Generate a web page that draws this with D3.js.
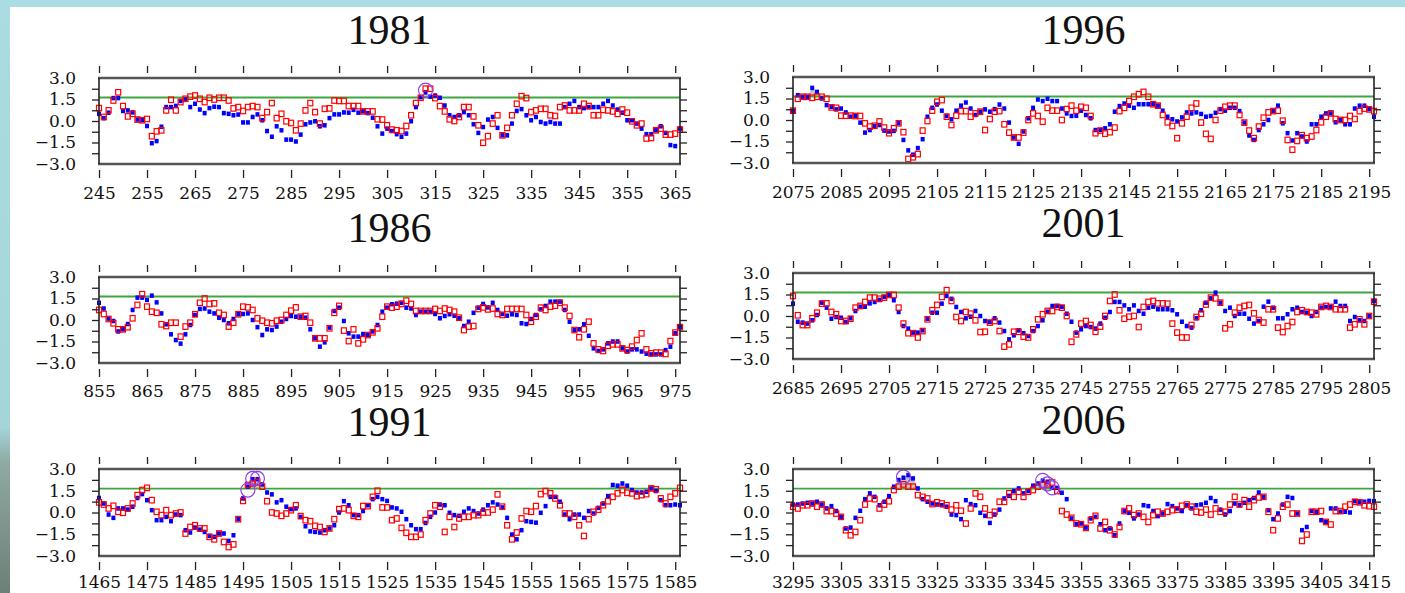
<!DOCTYPE html>
<html>
<head>
<meta charset="utf-8">
<script src="https://cdn.jsdelivr.net/npm/d3@7"></script>
<style>
  body { margin: 0; background: #fff; }
  svg { display: block; }
  .tick text { font-family: "DejaVu Serif", serif; font-size: 17px; fill: #111; }
  .title { font-family: "Liberation Serif", serif; font-size: 42px; fill: #111; }
</style>
</head>
<body>
<div id="chart"></div>
<script>
// panel titles and first day of each window (every window is 122 days)
const titles = ['1981', '1996', '1986', '2001', '1991', '2006'];
const startDays = [245, 2075, 855, 2685, 1465, 3295];
const threshold = 1.64;
const yLabelTicks = [-3, -1.5, 0, 1.5, 3];
const yMinorTicks = [-2.25, -1.5, -0.75, 0, 0.75, 1.5, 2.25];

const blue1981 = [0.5,0.2,0.58,1.6,1.6,0.7,0.74,0.6,0.1,0.05,
  -0.35,-1.55,-1.4,-0.4,0.97,0.97,1.05,1.4,1.5,0.97,
  1.2,0.8,0.55,0.9,1.0,0.97,0.55,0.5,0.4,0.45,
  -0.1,-0.1,0.28,0.46,0.05,-0.7,-1.1,-0.37,-0.65,-1.3,
  -1.3,-1.43,-0.95,-0.23,-0.1,-0.02,-0.37,-0.3,0.2,0.46,
  0.46,0.6,0.58,0.78,0.58,0.67,0.55,0.23,-0.37,-0.88,
  -0.53,-0.7,-0.92,-1.1,-0.88,-0.02,0.97,1.66,2.0,1.7,
  1.78,1.62,1.08,0.4,0.28,0.4,0.62,0.4,-0.23,-0.83,
  -0.42,0.1,0.28,-0.48,-1.0,-1.0,-0.18,0.7,0.83,0.4,
  0.05,0.28,-0.07,-0.18,-0.07,-0.18,-0.18,0.97,1.2,1.4,
  0.97,0.9,0.97,0.97,0.97,1.2,1.4,1.08,0.8,0.58,
  0.05,0.05,-0.18,-0.53,-0.92,-0.92,-0.65,-0.37,-0.83,-1.68,
  -1.75,-0.53];
const red1981 = [0.9,0.28,0.74,1.43,2.0,1.04,0.32,0.5,0.1,0.05,
  0.14,-1.06,-0.72,-0.65,0.74,1.48,0.74,1.32,1.55,1.7,
  1.78,1.55,1.32,1.62,1.5,1.62,1.62,1.43,0.88,0.97,
  0.7,0.97,1.04,0.97,0.2,0.62,1.25,0.2,0.5,-0.02,
  -0.14,-0.65,-0.18,0.74,1.25,0.62,-0.18,0.85,0.88,1.43,
  1.4,1.4,1.04,1.04,1.04,0.67,0.67,0.67,0.12,0.1,
  -0.3,-0.6,-0.65,-0.7,-0.35,0.4,1.25,1.62,2.25,2.25,
  1.6,1.04,0.67,0.12,0.0,0.28,0.97,0.97,0.32,-0.3,
  -1.52,-1.06,-0.18,0.4,-1.0,-0.48,0.4,1.2,1.73,1.6,
  0.62,0.74,0.85,0.85,0.4,0.35,0.97,1.08,0.74,0.74,
  0.74,1.2,1.04,0.4,0.4,0.78,0.74,0.67,0.5,0.8,
  0.58,-0.02,-0.3,-0.18,-1.22,-1.18,-0.65,-0.53,-0.95,-0.95,
  -0.88,-0.6];

const blue1996 = [0.65,1.73,1.62,1.62,2.24,1.96,1.5,1.04,0.92,0.74,
  0.8,0.53,0.23,0.3,-0.18,-0.88,-0.7,-0.42,-0.35,-0.74,
  -0.8,-0.76,-0.23,-1.39,-2.12,-2.42,-1.96,-1.34,0.23,0.85,
  1.08,0.65,0.28,0.05,0.65,1.0,1.22,0.8,0.35,0.58,
  0.74,0.58,0.76,1.08,0.8,-0.18,-1.22,-1.66,-0.8,0.12,
  0.85,1.43,1.32,1.48,1.32,1.32,0.8,0.46,0.28,0.3,
  0.65,0.35,0.12,-0.7,-0.7,-0.58,-0.3,0.58,0.97,1.15,
  1.0,0.85,1.1,1.1,1.1,1.1,1.0,0.65,0.23,0.05,
  -0.1,0.18,0.53,0.46,0.53,0.42,0.23,0.28,0.5,0.76,
  0.65,0.85,0.85,0.62,-0.18,-1.08,-1.39,-0.7,-0.3,0.0,
  0.62,1.0,-0.23,-0.92,-1.43,-0.92,-1.15,-1.5,-0.3,-0.3,
  0.23,0.46,0.46,-0.16,0.0,-0.3,-0.3,0.8,1.0,1.0,
  0.76,0.23];
const red1996 = [0.65,1.48,1.62,1.62,1.55,1.62,1.62,1.48,0.88,0.85,
  0.3,0.3,0.3,0.28,0.28,-0.23,-0.46,-0.4,-0.1,-0.53,
  -0.92,-0.58,-0.23,-0.85,-2.72,-2.6,-2.38,-0.74,-0.07,0.65,
  1.27,1.39,0.23,-0.35,0.3,0.62,0.62,0.23,0.46,0.58,
  -0.7,0.07,0.58,0.62,-0.3,-0.88,-1.22,-1.22,-0.88,0.0,
  0.46,0.28,-0.12,0.85,0.65,0.65,0.0,0.76,1.0,0.65,
  0.92,0.85,0.28,-0.92,-0.74,-0.95,-0.85,-0.53,0.62,0.85,
  1.32,1.62,1.8,1.96,1.62,1.1,1.0,0.35,-0.16,-0.42,
  -1.27,-0.23,0.23,0.85,1.15,-0.18,-0.97,-1.32,0.0,0.65,
  0.92,1.0,1.0,0.35,-0.18,-0.74,-1.27,-0.46,0.16,0.53,
  0.62,0.65,-0.05,-1.39,-2.07,-1.46,-1.06,-1.27,-1.15,-0.7,
  -0.16,0.23,0.46,0.07,0.0,0.0,0.28,0.07,0.62,0.8,
  0.74,0.62];

const blue1986 = [1.2,0.8,0.1,-0.07,-0.8,-0.65,-0.28,0.7,1.56,1.56,
  1.4,1.7,1.23,0.46,-0.3,-1.0,-1.4,-1.65,-1.0,-0.35,
  0.35,0.77,0.8,0.58,0.46,0.16,0.0,-0.23,0.07,0.4,
  0.42,0.46,0.0,-0.5,-1.05,-0.65,-0.7,-0.46,-0.12,0.07,
  0.28,0.23,0.23,0.16,-0.65,-1.28,-1.86,-1.56,-0.53,0.63,
  0.86,-0.07,-0.93,-1.16,-1.16,-0.98,-1.05,-0.8,-0.35,0.58,
  0.86,1.1,1.14,1.2,0.86,0.8,0.35,0.58,0.58,0.58,
  0.42,0.12,0.28,0.4,0.3,0.12,-0.42,-0.12,0.5,0.86,
  1.12,0.88,1.2,0.7,0.42,0.3,0.4,0.35,-0.23,-0.28,
  0.07,0.35,0.74,0.98,1.28,1.28,1.28,0.7,-0.12,-0.7,
  -0.65,-0.3,-1.1,-1.98,-2.16,-2.05,-1.63,-1.5,-1.5,-1.98,
  -2.2,-2.05,-2.05,-2.2,-2.35,-2.4,-2.4,-2.4,-2.1,-1.86,
  -0.93,-0.5];
const red1986 = [0.7,0.42,0.07,-0.23,-0.65,-0.65,-0.5,0.12,1.05,1.8,
  0.93,0.58,0.5,-0.3,-0.42,-0.19,-0.19,-1.16,-0.46,-0.19,
  0.4,1.2,1.5,1.12,1.16,0.5,0.35,-0.46,-0.19,0.4,
  0.93,0.88,0.7,0.12,-0.05,-0.19,-0.23,-0.05,0.0,0.35,
  0.65,0.88,0.23,0.28,-0.19,-1.28,-1.28,-1.28,-0.58,0.5,
  0.98,-0.74,-1.47,-0.65,-1.63,-1.35,-1.05,-0.86,-0.58,0.23,
  0.93,0.86,0.93,1.12,1.35,1.12,0.63,0.63,0.63,0.63,
  0.77,0.63,0.8,0.7,0.58,0.16,-0.7,-0.46,-0.42,0.77,
  0.88,0.74,0.8,0.42,0.35,0.77,0.77,0.77,0.77,0.35,
  -0.12,0.23,0.86,0.7,0.93,1.0,1.2,0.86,0.28,-0.7,
  -1.2,-0.65,-0.12,-1.63,-2.05,-2.16,-1.8,-1.7,-1.7,-1.98,
  -2.1,-1.86,-1.4,-0.93,-2.05,-2.33,-2.28,-2.28,-2.37,-1.47,
  -0.88,-0.5];

const blue2001 = [0.86,-0.4,-0.46,-0.53,-0.3,0.07,0.93,0.58,-0.19,-0.07,
  -0.12,-0.42,-0.16,0.35,0.65,0.65,0.88,0.98,1.12,1.33,
  1.47,1.1,0.28,-0.7,-0.88,-1.16,-1.16,-1.0,-0.19,0.23,
  0.23,0.86,1.4,1.2,0.63,0.28,-0.16,-0.05,0.35,0.0,
  -0.35,-0.42,-0.16,-0.46,-1.05,-1.63,-1.35,-1.0,-1.2,-1.4,
  -1.05,-0.7,-0.3,0.3,0.7,0.7,0.63,0.16,-0.4,-1.16,
  -0.93,-0.7,-0.77,-0.88,-0.53,-0.12,0.28,0.98,0.98,0.74,
  0.47,0.74,0.35,0.16,0.58,0.65,0.47,0.47,0.47,0.4,
  0.12,-0.4,-0.7,-0.81,-0.16,0.4,0.93,1.23,1.63,0.93,
  0.35,0.58,0.0,0.16,0.16,-0.19,-0.53,-0.35,0.65,1.0,
  0.58,-0.16,-0.16,0.12,0.47,0.58,0.28,0.23,0.0,0.28,
  0.58,0.63,0.63,1.0,0.7,0.7,-0.35,-0.07,-0.3,-0.35,
  0.0,1.05];
const red2001 = [1.4,0.05,-0.63,-0.63,-0.16,0.23,0.86,0.88,0.28,0.12,
  -0.35,-0.35,-0.19,0.58,0.7,0.98,1.28,1.28,1.2,1.28,
  1.47,1.47,0.58,-0.53,-1.2,-1.2,-1.5,-1.05,-0.23,0.4,
  0.77,1.33,1.8,1.05,-0.07,-0.35,0.28,0.16,-0.3,-1.12,
  -1.1,-0.46,-0.35,-1.05,-2.14,-1.98,-1.1,-1.1,-1.44,-1.5,
  -0.93,-0.23,0.12,0.35,0.35,0.63,0.58,0.0,-1.8,-1.28,
  -0.53,-0.35,-0.63,-1.1,-0.74,0.0,1.05,1.5,0.4,-0.19,
  -0.05,0.0,-0.77,0.63,0.98,1.05,0.88,0.88,0.86,-0.53,
  -1.16,-1.5,-1.5,-0.63,-0.07,0.16,0.8,1.28,1.23,0.93,
  -0.86,-0.58,0.23,0.58,0.7,0.77,0.19,-0.28,-0.46,0.47,
  0.47,-0.81,-1.12,-0.7,-0.42,0.28,0.4,0.28,0.23,0.12,
  0.63,0.7,0.63,0.47,0.47,0.47,-0.81,-0.58,-0.23,-0.58,
  0.0,1.0];

const blue1991 = [1.0,0.62,-0.14,-0.37,0.28,0.28,0.2,0.4,1.0,1.27,
  0.85,0.16,-0.53,-0.53,-0.3,-0.6,-0.14,-0.18,-1.22,-1.38,
  -1.04,-1.18,-1.34,-1.62,-1.68,-1.45,-1.45,-1.96,-1.57,-0.46,
  0.97,1.78,2.3,2.3,1.94,1.38,1.25,0.7,0.85,0.4,
  0.23,0.28,-0.3,-0.95,-1.3,-1.34,-1.38,-1.22,-1.1,-0.88,
  0.0,0.78,0.5,-0.18,-0.18,0.1,0.5,0.92,1.08,0.92,
  0.8,0.35,0.28,0.05,-0.46,-0.88,-1.15,-1.15,-0.72,-0.3,
  0.0,0.55,0.5,-0.02,-0.18,-0.23,0.05,0.28,0.1,-0.07,
  0.2,0.5,0.7,0.55,0.35,-0.37,-1.52,-1.85,-1.22,-0.6,
  -0.65,-0.7,-0.02,0.44,1.08,1.08,0.74,-0.14,-0.46,-0.14,
  -0.14,-0.37,0.1,-0.07,0.32,0.62,1.13,1.9,1.85,2.0,
  1.85,1.55,1.38,1.38,1.43,1.66,1.48,0.85,0.5,0.5,
  0.55,0.5];
const red1991 = [0.7,0.55,0.28,0.46,0.05,-0.02,0.28,0.62,1.2,1.55,
  1.7,0.85,0.05,-0.18,0.16,-0.18,-0.07,0.0,-1.45,-1.0,
  -0.88,-1.1,-1.1,-1.68,-1.85,-1.45,-2.03,-2.38,-2.2,-0.46,
  0.8,1.9,2.0,2.1,1.78,0.78,0.0,-0.07,-0.23,-0.07,
  0.16,0.5,-0.25,-0.53,-0.6,-0.92,-1.0,-1.34,-1.1,-0.46,
  0.23,0.28,0.16,-0.23,-0.3,0.44,0.44,1.08,1.5,0.35,
  0.35,-0.53,-0.41,-1.06,-1.4,-1.68,-1.68,-1.52,-0.53,-0.07,
  0.5,0.4,-1.34,-0.3,-1.0,-0.41,-0.3,-0.3,-0.18,-0.18,
  0.0,0.0,0.2,1.25,0.4,-0.88,-1.85,-1.38,-0.41,0.1,
  0.05,0.44,1.27,1.48,1.32,0.97,0.5,-0.07,-0.07,-0.3,
  -0.88,-1.62,-0.46,0.05,0.2,0.5,0.78,1.08,1.32,1.55,
  1.36,1.32,1.13,1.2,1.27,1.66,1.6,0.97,0.62,1.08,
  1.32,1.7];

const blue2006 = [0.55,0.55,0.62,0.67,0.62,0.74,0.55,0.28,0.44,0.1,
  -0.3,-1.1,-1.04,-0.37,0.12,0.92,1.32,1.08,0.5,0.74,
  1.13,1.78,2.24,2.4,2.58,2.35,1.66,0.92,0.74,0.62,
  0.55,0.5,0.4,-0.14,-0.18,-0.46,0.85,0.58,0.5,-0.02,
  -0.23,-0.72,-0.14,0.2,0.97,1.15,1.48,1.66,1.32,1.48,
  1.85,2.0,2.2,2.12,1.7,1.7,1.36,0.92,-0.41,-0.81,
  -0.76,-1.04,-0.41,-0.3,-0.81,-1.22,-1.1,-1.57,-0.76,0.1,
  -0.02,-0.41,-0.14,0.5,0.44,0.1,-0.25,-0.07,0.58,0.44,
  0.28,0.1,0.5,0.28,0.5,0.55,0.67,1.0,0.78,0.2,
  -0.14,0.1,0.62,0.5,0.67,0.85,1.0,1.38,1.08,0.16,
  -0.46,-0.07,0.55,1.08,1.0,-0.07,-1.22,-1.0,0.1,0.05,
  -0.53,-0.65,0.28,0.28,0.05,0.05,0.0,0.78,0.7,0.74,
  0.8,0.78];
const red2006 = [0.4,0.28,0.5,0.5,0.62,0.4,0.55,0.1,0.1,-0.07,
  -0.3,-1.22,-1.57,-1.34,-0.53,0.55,0.97,0.92,0.28,0.55,
  0.78,1.55,1.78,1.94,1.78,1.78,1.2,1.08,0.97,0.58,
  0.7,0.62,0.5,0.2,0.5,0.12,-0.76,0.28,1.32,1.08,
  0.28,-0.18,0.05,0.74,0.74,1.32,1.08,1.43,1.08,1.43,
  1.55,1.78,1.9,1.94,2.07,1.48,0.1,-0.14,-0.37,-0.76,
  -0.81,-1.06,-0.53,-0.23,-1.1,-0.65,-1.22,-1.52,-1.0,0.1,
  0.28,-0.18,-0.07,-0.3,-0.65,-0.18,0.05,-0.07,0.05,0.16,
  0.2,0.46,0.55,0.4,0.05,0.0,0.2,-0.14,0.28,0.05,
  0.05,0.55,1.08,0.55,0.85,0.4,0.85,1.04,1.08,0.05,
  -1.22,-0.41,0.4,0.55,-0.07,-0.07,-1.96,-1.52,0.05,0.05,
  0.1,-0.65,-0.83,0.1,0.1,0.4,0.55,0.74,0.7,0.5,
  0.44,0.4];

// purple circles: [day, value]
const circles1981 = [[313, 2.15]];
const circles1996 = [];
const circles1986 = [];
const circles2001 = [];
const circles1991 = [[1496, 1.55], [1497, 2.35], [1498, 2.35]];
const circles2006 = [[3318, 2.45], [3347, 2.22], [3348, 1.98], [3349, 1.7]];

const blueSeries = [blue1981, blue1996, blue1986, blue2001, blue1991, blue2006];
const redSeries = [red1981, red1996, red1986, red2001, red1991, red2006];
const circleSeries = [circles1981, circles1996, circles1986, circles2001, circles1991, circles2006];

// layout of the six frames (labelPad puts the x labels under the frame)
const boxes = [
  { x0: 99, x1: 680, y0: 78, y1: 164, titleY: 44, labelPad: 8.5 },
  { x0: 793, x1: 1374, y0: 77, y1: 163, titleY: 44, labelPad: 8.5 },
  { x0: 99, x1: 680, y0: 277, y1: 363, titleY: 242, labelPad: 8 },
  { x0: 793, x1: 1374, y0: 273, y1: 359, titleY: 237, labelPad: 9 },
  { x0: 99, x1: 680, y0: 469, y1: 556, titleY: 435.5, labelPad: 5.5 },
  { x0: 793, x1: 1374, y0: 469, y1: 556, titleY: 434, labelPad: 5.5 },
];

const width = 1405;
const height = 593;

const svg = d3.select('#chart')
  .append('svg')
  .attr('width', width)
  .attr('height', height);

drawBackground();
titles.forEach((t, i) => drawPanel(i));

function drawBackground() {
  const grad = svg.append('defs').append('linearGradient')
    .attr('id', 'leftband')
    .attr('x1', 0).attr('y1', 0).attr('x2', 0).attr('y2', 1);
  grad.append('stop').attr('offset', '0%').attr('stop-color', '#a9dde3');
  grad.append('stop').attr('offset', '72%').attr('stop-color', '#a4d5d9');
  grad.append('stop').attr('offset', '78%').attr('stop-color', '#8eaaa2');
  grad.append('stop').attr('offset', '100%').attr('stop-color', '#6c8077');

  svg.append('rect').attr('width', width).attr('height', height).attr('fill', '#fff');
  svg.append('rect').attr('width', width).attr('height', 7).attr('fill', '#a9dde3');
  svg.append('rect').attr('width', 10).attr('height', height).attr('fill', 'url(#leftband)');
}

function drawPanel(i) {
  const box = boxes[i];
  const start = startDays[i];
  const blue = blueSeries[i];
  const red = redSeries[i];
  const days = blue.map((d, k) => start + k);

  const x = d3.scaleLinear().domain([start, start + 121]).range([box.x0, box.x1]);
  const y = d3.scaleLinear().domain([-3, 3]).range([box.y1, box.y0]);
  const xTicks = d3.range(start, start + 121, 10);

  const g = svg.append('g');

  // title
  g.append('text')
    .attr('class', 'title')
    .attr('x', (box.x0 + box.x1) / 2)
    .attr('y', box.titleY)
    .attr('text-anchor', 'middle')
    .text(titles[i]);

  // gray shading where the blue series is above the threshold
  const area = d3.area()
    .x((d, k) => x(days[k]))
    .y0(y(threshold))
    .y1((d) => y(Math.max(d, threshold)));
  g.append('path')
    .datum(blue)
    .attr('d', area)
    .attr('fill', '#c4c4c4');

  // threshold line
  g.append('line')
    .attr('x1', box.x0).attr('x2', box.x1)
    .attr('y1', y(threshold)).attr('y2', y(threshold))
    .attr('stroke', '#3fa63f')
    .attr('stroke-width', 1.8);

  // blue filled squares
  g.append('g')
    .selectAll('rect')
    .data(blue)
    .join('rect')
    .attr('x', (d, k) => x(days[k]) - 2)
    .attr('y', (d) => y(d) - 2.25)
    .attr('width', 4)
    .attr('height', 4.5)
    .attr('fill', '#0000ff');

  // red open squares
  g.append('g')
    .selectAll('rect')
    .data(red)
    .join('rect')
    .attr('x', (d, k) => x(days[k]) - 2.5)
    .attr('y', (d) => y(d) - 2.75)
    .attr('width', 5)
    .attr('height', 5.5)
    .attr('fill', 'none')
    .attr('stroke', '#ff0000')
    .attr('stroke-width', 1.2);

  // purple circles
  g.append('g')
    .selectAll('circle')
    .data(circleSeries[i])
    .join('circle')
    .attr('cx', (d) => x(d[0]))
    .attr('cy', (d) => y(d[1]))
    .attr('r', 7)
    .attr('fill', 'none')
    .attr('stroke', '#9040e8')
    .attr('stroke-width', 1.2);

  // frame
  g.append('line')
    .attr('x1', box.x0 - 1).attr('x2', box.x1 + 1)
    .attr('y1', box.y0).attr('y2', box.y0)
    .attr('stroke', '#555').attr('stroke-width', 2.5);
  g.append('line')
    .attr('x1', box.x0 - 1).attr('x2', box.x1 + 1)
    .attr('y1', box.y1).attr('y2', box.y1)
    .attr('stroke', '#555').attr('stroke-width', 2.5);
  g.append('line')
    .attr('x1', box.x0).attr('x2', box.x0)
    .attr('y1', box.y0).attr('y2', box.y1)
    .attr('stroke', '#222').attr('stroke-width', 1.6);
  g.append('line')
    .attr('x1', box.x1).attr('x2', box.x1)
    .attr('y1', box.y0).attr('y2', box.y1)
    .attr('stroke', '#222').attr('stroke-width', 1.6);

  // y ticks on both sides
  g.append('g')
    .attr('transform', `translate(${box.x0},0)`)
    .call(d3.axisLeft(y).tickValues(yMinorTicks).tickSize(7).tickFormat(''))
    .call((s) => s.select('.domain').remove());
  g.append('g')
    .attr('transform', `translate(${box.x1},0)`)
    .call(d3.axisRight(y).tickValues(yMinorTicks).tickSize(7).tickFormat(''))
    .call((s) => s.select('.domain').remove());
  g.append('g')
    .attr('transform', `translate(${box.x0},0)`)
    .call(d3.axisLeft(y).tickValues(yLabelTicks).tickSize(0).tickPadding(23)
      .tickFormat((d) => (d < 0 ? '\u2212' : '') + Math.abs(d).toFixed(1)))
    .call((s) => s.select('.domain').remove());

  // x ticks, detached from the frame, top and bottom
  g.append('g')
    .attr('transform', `translate(0,${box.y0 - 5})`)
    .call(d3.axisTop(x).tickValues(xTicks).tickSize(7).tickFormat(''))
    .call((s) => s.select('.domain').remove());
  g.append('g')
    .attr('transform', `translate(0,${box.y1 + 6})`)
    .call(d3.axisBottom(x).tickValues(xTicks).tickSize(8).tickPadding(box.labelPad).tickFormat(d3.format('d')))
    .call((s) => s.select('.domain').remove());

  g.selectAll('.tick line').attr('stroke', '#222').attr('stroke-width', 1.3);
}
</script>
</body>
</html>
